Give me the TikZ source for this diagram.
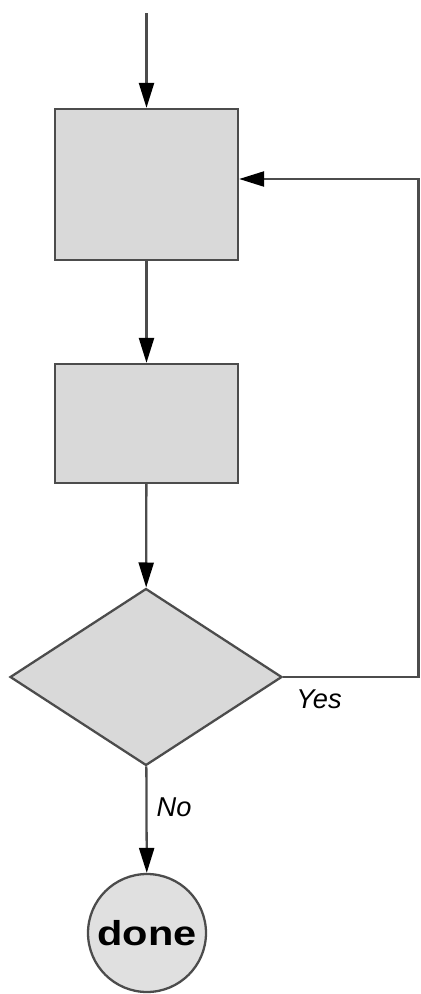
\documentclass[tikz,border=0pt]{standalone}
\usepackage{fontspec}
\setmainfont{Liberation Sans}
\newfontfamily\donefont[FakeStretch=1.2]{Liberation Sans}
\usetikzlibrary{shapes.geometric,arrows.meta}

\tikzset{
	flow/.style={draw=black!70, line width=1.3pt, -{Triangle[length=0.5cm,width=0.3cm,color=black]}},
	stepbox/.style={draw=black!70, fill=black!15, line width=1.3pt, minimum width=3.66cm, inner sep=0},
	decision/.style={diamond, draw=black!70, fill=black!15, line width=1.3pt, minimum width=5.44cm, minimum height=3.54cm, inner sep=0},
	endcircle/.style={circle, draw=black!70, fill=black!12, line width=1.3pt, minimum size=2.36cm, inner sep=0},
	answer/.style={font=\fontsize{15.5}{18}\selectfont\itshape}
}

\begin{document}
\begin{tikzpicture}[x=0.02cm, y=-0.02cm]
				%%%%% START %%%%%
				\useasboundingbox (0, 0) rectangle (420, 994);
				
				\coordinate (start) at (146.5, 13);
				\node[stepbox, minimum height=3.02cm] (first) at (146.5, 184.5) {};
				\node[stepbox, minimum height=2.38cm] (second) at (146.5, 423.5) {};
				\node[decision] (check) at (146, 677) {};
				\node[endcircle] (done) at (147, 933) {\donefont\fontsize{19.7}{22}\selectfont\bfseries done};
				
				\draw[flow] (start) -- (first);
				\draw[flow] (first) -- (second);
				\draw[flow] (second) -- (check);
				\draw[flow] (check) -- (done);
				
				\coordinate (back) at (418.5, 179);
				\draw[flow] (check.east) -| (back) -- (first.east |- back);
				
				\node[answer] (yes) at (319, 699) {Yes};
				\node[answer] (no) at (174, 807) {No};
				%%%%% END %%%%%
			\end{tikzpicture}
\end{document}
